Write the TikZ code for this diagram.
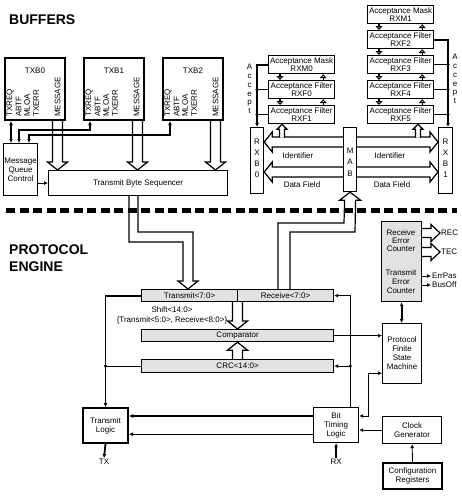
\documentclass[tikz,border=0pt]{standalone}
\usepackage{fontspec}
\setmainfont{Liberation Sans}
\usetikzlibrary{arrows.meta,calc,backgrounds}
\definecolor{regfill}{HTML}{E2E2E2}
\tikzset{
  txt/.style={font=\fontsize{8}{9}\selectfont, inner sep=0pt, align=center},
  blk/.style={txt, draw, line width=1.2pt, fill=white, anchor=north west},
  heavy/.style={blk, line width=2pt},
  reg/.style={blk, fill=regfill},
  filt/.style={blk, minimum width=66pt, minimum height=18pt, font=\fontsize{8}{8.5}\selectfont},
  vlabel/.style={txt, rotate=90, anchor=west},
  letters/.style={txt, font=\fontsize{8}{#1}\selectfont},
  title/.style={font=\fontsize{14}{17}\selectfont\bfseries, inner sep=0pt, align=left, anchor=north west},
  wire/.style={line width=0.9pt},
  hwire/.style={line width=1.8pt},
  sig/.style={wire, -{Latex[length=4pt,width=4pt]}},
  both/.style={wire, {Latex[length=4pt,width=4pt]}-{Latex[length=4pt,width=4pt]}},
  tri/.style={line width=1.1pt, -{Triangle[open,length=4pt,width=7pt]}},
  fat/.style={draw, fill=white, line width=1.2pt},
  sep/.style={line width=5pt, dash pattern=on 9pt off 4.5pt},
}
\newcommand{\fatsh}{5}
\newcommand{\fathd}{10}
\newcommand{\fatln}{8}
\newcommand{\fatdown}[3]{%
  \path (#2 -| orig) coordinate (ft) (#3 -| orig) coordinate (fh);
  \filldraw[fat] ($(ft)+({#1-\fatsh},0)$) -- ($(fh)+({#1-\fatsh},-\fatln)$)
    -- ($(fh)+({#1-\fathd},-\fatln)$) -- ($(fh)+(#1,0)$)
    -- ($(fh)+({#1+\fathd},-\fatln)$) -- ($(fh)+({#1+\fatsh},-\fatln)$)
    -- ($(ft)+({#1+\fatsh},0)$);}
\newcommand{\fatup}[3]{%
  \path (#2 -| orig) coordinate (ft) (#3 -| orig) coordinate (fh);
  \filldraw[fat] ($(ft)+({#1-\fatsh},0)$) -- ($(fh)+({#1-\fatsh},\fatln)$)
    -- ($(fh)+({#1-\fathd},\fatln)$) -- ($(fh)+(#1,0)$)
    -- ($(fh)+({#1+\fathd},\fatln)$) -- ($(fh)+({#1+\fatsh},\fatln)$)
    -- ($(ft)+({#1+\fatsh},0)$);}
\newcommand{\fatleft}[3]{%
  \path (#2 |- orig) coordinate (ft) (#3 |- orig) coordinate (fh);
  \filldraw[fat] ($(ft)+(0,{#1-\fatsh})$) -- ($(fh)+(\fatln,{#1-\fatsh})$)
    -- ($(fh)+(\fatln,{#1-\fathd})$) -- ($(fh)+(0,#1)$)
    -- ($(fh)+(\fatln,{#1+\fathd})$) -- ($(fh)+(\fatln,{#1+\fatsh})$)
    -- ($(ft)+(0,{#1+\fatsh})$);}
\newcommand{\fatright}[3]{%
  \path (#2 |- orig) coordinate (ft) (#3 |- orig) coordinate (fh);
  \filldraw[fat] ($(ft)+(0,{#1-\fatsh})$) -- ($(fh)+(-\fatln,{#1-\fatsh})$)
    -- ($(fh)+(-\fatln,{#1-\fathd})$) -- ($(fh)+(0,#1)$)
    -- ($(fh)+(-\fatln,{#1+\fathd})$) -- ($(fh)+(-\fatln,{#1+\fatsh})$)
    -- ($(ft)+(0,{#1+\fatsh})$);}
\newcommand{\tap}[3]{%
  \path (#3 -| orig) coordinate (fh);
  \filldraw[fat] ($(orig)+({#1-2.5},{#2+0.7})$) -- ($(fh)+({#1-2.5},5)$)
    -- ($(fh)+({#1-5},5)$) -- ($(fh)+(#1,0)$) -- ($(fh)+({#1+5},5)$)
    -- ($(fh)+({#1+2.5},5)$) -- ($(orig)+({#1+2.5},{#2+0.7})$);}

\begin{document}
\begin{tikzpicture}[x=1pt, y=-1pt]
\useasboundingbox (0,0) rectangle (462,496);
\coordinate (orig) at (0,0);

\node[title] (buffers) at (9,15) {BUFFERS};
\node[title] (engine) at (9,245) {PROTOCOL\\ENGINE};

% transmit buffers
\foreach \b/\l/\x in {txb0/TXB0/4, txb1/TXB1/83, txb2/TXB2/162} {
  \node[heavy, minimum width=60pt, minimum height=62pt] (\b) at (\x,57) {};
  \node[txt] (\b-name) at ($(\b.north)+(0,14)$) {\l};
  \foreach \s/\dx in {TXREQ/6, ABTF/14.5, MLOA/23, TXERR/32, MESSAGE/53.5}
    \node[vlabel] (\b-\s) at ($(\b.south west)+(\dx,-4)$) {\s};
}
\node[blk, minimum width=34pt, minimum height=52pt] (mqc) at (3,143) {Message\\Queue\\Control};
\node[blk, minimum width=179pt, minimum height=25pt] (tbs) at (48,170) {Transmit Byte Sequencer};

% receive buffers
\foreach \n/\t/\l/\x/\y in {rxm0/Mask/RXM0/268/55, rxf0/Filter/RXF0/268/80, rxf1/Filter/RXF1/268/105,
    rxm1/Mask/RXM1/367/5, rxf2/Filter/RXF2/367/30, rxf3/Filter/RXF3/367/55,
    rxf4/Filter/RXF4/367/80, rxf5/Filter/RXF5/367/105}
  \node[filt] (\n) at (\x,\y) {Acceptance \t\\\l};
\node[blk, minimum width=13pt, minimum height=66pt] (rxb0) at (250,127) {};
\node[blk, minimum width=13pt, minimum height=64pt] (mab) at (343,127) {};
\node[blk, minimum width=14pt, minimum height=66pt] (rxb1) at (438,127) {};
\node[letters=11] (rxb0-t) at ($(rxb0.center)+(0,-2)$) {R\\X\\B\\0};
\node[letters=11.5] (mab-t) at ($(mab.center)+(0,2.5)$) {M\\A\\B};
\node[letters=11] (rxb1-t) at ($(rxb1.center)+(0,-2)$) {R\\X\\B\\1};
\node[letters=8.8] (acc0) at (249.5,89) {A\\c\\c\\e\\p\\t};
\node[letters=8.8] (acc1) at (455,79) {A\\c\\c\\e\\p\\t};
\node[txt] (idl) at (298,156) {Identifier};
\node[txt] (idr) at (390,156) {Identifier};
\node[txt] (dfl) at (302,185) {Data Field};
\node[txt] (dfr) at (392,185) {Data Field};

% protocol engine
\node[reg, minimum width=96pt, minimum height=12pt] (tx) at (141,289) {Transmit<7:0>};
\node[reg, minimum width=96pt, minimum height=12pt] (rx) at (237,289) {Receive<7:0>};
\node[reg, minimum width=192pt, minimum height=12pt] (cmp) at (141,329) {Comparator};
\node[reg, minimum width=192pt, minimum height=13pt] (crc) at (141,359) {CRC<14:0>};
\node[txt, font=\fontsize{8}{10}\selectfont] (shift) at (172,315) {Shift<14:0>\\\{Transmit<5:0>, Receive<8:0>\}};
\node[reg, minimum width=40pt, minimum height=80pt] (errc) at (381,221) {};
\node[txt, font=\fontsize{8}{8}\selectfont] (errcr) at (401,241) {Receive\\Error\\Counter};
\node[txt] (errct) at (401,282) {Transmit\\Error\\Counter};
\node[txt, anchor=west, inner sep=1pt] (rec) at (440,233) {REC};
\node[txt, anchor=west, inner sep=1pt] (tec) at (440,252) {TEC};
\node[txt, anchor=west, inner sep=1pt] (errpas) at (431,276) {ErrPas};
\node[txt, anchor=west, inner sep=1pt] (busoff) at (431,285) {BusOff};
\node[blk, minimum width=39pt, minimum height=60pt] (fsm) at (382,323) {Protocol\\Finite\\State\\Machine};
\node[blk, minimum width=45pt, minimum height=35pt] (btl) at (313,407) {Bit\\Timing\\Logic};
\node[heavy, minimum width=45pt, minimum height=35pt] (txl) at (82,407) {Transmit\\Logic};
\node[blk, minimum width=59pt, minimum height=27pt] (clk) at (382,416) {Clock\\Generator};
\node[heavy, minimum width=59pt, minimum height=26pt] (cfg) at (382,462) {Configuration\\Registers};
\node[txt, inner sep=1pt] (txpin) at (104,462) {TX};
\node[txt, inner sep=1pt] (rxpin) at (btl.south |- txpin) {RX};

\begin{pgfonlayer}{background}
  \fatdown{57.5}{txb0.south}{tbs.north}
  \fatdown{137.5}{txb1.south}{tbs.north}
  \fatdown{215.5}{txb2.south}{tbs.north}
  \filldraw[fat] ($(tbs.south -| orig)+(129,0)$) -- (129,242) -- (183,242)
    -- ($(tx.north -| orig)+(183,-8)$) -- ++(-5,0) -- ($(tx.north -| orig)+(188,0)$)
    -- ($(tx.north -| orig)+(198,-8)$) -- ++(-5,0) -- (193,232) -- (138,232)
    -- ($(tbs.south -| orig)+(138,0)$);
  \filldraw[fat] ($(rx.north -| orig)+(278,0)$) -- (278,223) -- (344,223)
    -- ($(mab.south)+(-5.5,8)$) -- ++(-5,0) -- (mab.south) -- ($(mab.south)+(10.5,8)$)
    -- ++(-5,0) -- (355,232) -- (290,232) -- ($(rx.north -| orig)+(290,0)$);
  \fatleft{142}{mab.west}{rxb0.east}
  \fatright{142}{mab.east}{rxb1.west}
  \fatleft{172}{mab.west}{rxb0.east}
  \fatright{172}{mab.east}{rxb1.west}
  \tap{282}{137}{rxf1.south}
  \tap{418}{137}{rxf5.south}
  \fatdown{237.5}{tx.south}{cmp.north}
  \fatup{237.5}{crc.north}{cmp.south}
  \renewcommand{\fatsh}{4.5}\renewcommand{\fathd}{8.5}\renewcommand{\fatln}{9}
  \fatright{233}{errc.east}{rec.west}
  \fatright{252}{errc.east}{tec.west}
\end{pgfonlayer}

% buffer control
\coordinate (q0) at ([xshift=8]mqc.north west);
\coordinate (q1) at ([xshift=16]mqc.north west);
\coordinate (q2) at ([xshift=26]mqc.north west);
\draw[both, hwire] (q0) -- (q0 |- txb0.south);
\draw[both, hwire] (q1) -- ++(0,-13) -| ([xshift=7]txb1.south west);
\draw[both, hwire] (q2) -- ++(0,-8) -| ([xshift=8]txb2.south west);
\draw[sig] (mqc.east |- tbs.west) -- (tbs.west);

% accept lines
\draw[sig, hwire] (rxm0.west) -| (rxb0.north);
\foreach \f in {rxf0, rxf1} {
  \draw[wire] (\f.west) -- (\f.west -| rxb0.north);
  \fill (\f.west -| rxb0.north) circle (1.8);
}
\coordinate (ra) at ([xshift=10]rxb1.north west);
\draw[sig, hwire] (rxf2.east) -| (ra);
\foreach \f in {rxf3, rxf4, rxf5} {
  \draw[wire] (\f.east) -- (\f.east -| ra);
  \fill (\f.east -| ra) circle (1.8);
}
\foreach \a/\b in {rxm0/rxf0, rxf0/rxf1, rxm1/rxf2, rxf2/rxf3, rxf3/rxf4, rxf4/rxf5} {
  \draw[tri] ([xshift=12]\a.south west) -- ([xshift=12]\b.north west);
  \draw[tri] ([xshift=-12]\b.north east) -- ([xshift=-12]\a.south east);
}

% protocol engine signals
\draw[sig, hwire] (tx.west) -| (txl.north);
\draw[wire] (crc.west) -- (crc.west -| txl.north);
\fill (crc.west -| txl.north) circle (1.8);
\coordinate (rj) at ([xshift=-9]btl.north east);
\draw[sig] (rj) |- (rx.east);
\draw[sig] (crc.east -| rj) -- (crc.east);
\fill (crc.east -| rj) circle (1.8);
\draw[sig] (cmp.east) -- (cmp.east -| fsm.west);
\draw[both] ([yshift=-9]btl.north east) -- ++(9,0) |- ([yshift=11]fsm.south west);
\draw[both, hwire] (errc.south) -- (errc.south |- fsm.north);
\draw[sig] (errc.east |- errpas.west) -- (errpas.west);
\draw[sig] (errc.east |- busoff.west) -- (busoff.west);
\coordinate (b1) at ([yshift=-9]btl.north west);
\coordinate (b2) at ([yshift=9]btl.south west);
\draw[sig, hwire] (b1) -- (b1 -| txl.east);
\draw[sig] (b2) -- (b2 -| txl.east);
\draw[sig] (clk.west) -- (clk.west -| btl.east);
\draw[sig] (cfg.north) -- (clk.south);
\draw[sig, hwire] (txl.south) -- (txpin.north);
\draw[sig, hwire] (rxpin.north) -- (btl.south);

\draw[sep] (6,210) -- (457,210);
\end{tikzpicture}
\end{document}
